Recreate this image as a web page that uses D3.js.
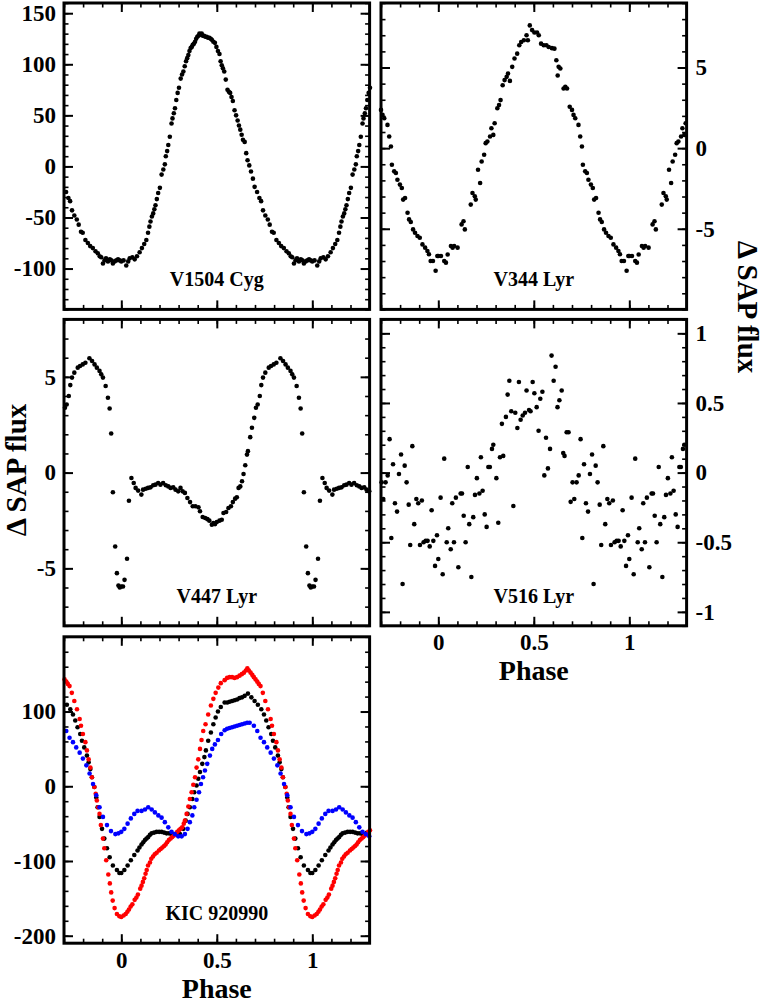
<!DOCTYPE html>
<html>
<head>
<meta charset="utf-8">
<script src="https://cdn.jsdelivr.net/npm/d3@7"></script>
<style>
  body { margin: 0; background: #fff; }
  text { font-family: "Liberation Serif", "Times New Roman", serif; font-weight: bold; }
</style>
</head>
<body>
<script>
// Dados: uma fase (0..1) de cada curva, repetida em -1/+1 ao desenhar
const phaseDomain = [-0.3, 1.3];
const phaseTicks = [0, 0.5, 1];

const v1504Cyg = [[0.000,-93],[0.012,-92],[0.026,-97],[0.036,-93],[0.044,-90],[0.058,-89],[0.070,-91],[0.082,-88],[0.096,-84],[0.108,-80],[0.120,-76],[0.131,-72],[0.140,-65],[0.147,-59],[0.153,-54],[0.160,-49],[0.167,-46],[0.173,-42],[0.179,-38],[0.186,-32],[0.193,-26],[0.202,-21],[0.211,-8],[0.220,-3],[0.228,2],[0.233,10],[0.240,15],[0.246,21],[0.254,29],[0.263,42],[0.268,47],[0.275,52],[0.281,57],[0.288,65],[0.295,72],[0.302,77],[0.311,86],[0.318,90],[0.325,93],[0.332,98],[0.339,103],[0.345,106],[0.351,109],[0.357,113],[0.363,116],[0.369,117],[0.374,119],[0.380,120],[0.386,122],[0.392,125],[0.398,127],[0.404,128],[0.409,130],[0.415,129],[0.421,130],[0.427,128],[0.433,128],[0.440,127],[0.447,127],[0.454,126],[0.461,126],[0.468,125],[0.474,124],[0.482,122],[0.490,121],[0.498,117],[0.506,113],[0.514,110],[0.520,103],[0.526,99],[0.532,96],[0.539,93],[0.547,85],[0.556,75],[0.563,73],[0.570,72],[0.577,68],[0.584,64],[0.593,55],[0.601,50],[0.609,45],[0.616,40],[0.623,36],[0.630,31],[0.637,26],[0.646,24],[0.654,13],[0.661,6],[0.670,1],[0.679,-5],[0.689,-12],[0.698,-20],[0.711,-25],[0.723,-31],[0.732,-34],[0.742,-43],[0.754,-48],[0.767,-52],[0.777,-57],[0.789,-64],[0.798,-65],[0.812,-72],[0.825,-75],[0.837,-78],[0.851,-80],[0.865,-83],[0.877,-85],[0.887,-88],[0.895,-89],[0.904,-95],[0.912,-92],[0.920,-90],[0.930,-93],[0.940,-91],[0.948,-92],[0.956,-95],[0.965,-93],[0.974,-92],[0.983,-91],[0.992,-92]];

const v344Lyr = [[0.000,-6.69],[0.014,-6.69],[0.031,-7.0],[0.040,-7.1],[0.049,-6.6],[0.066,-6.07],[0.075,-6.17],[0.083,-6.07],[0.101,-6.17],[0.122,-4.73],[0.132,-4.53],[0.139,-5.04],[0.170,-3.5],[0.179,-2.78],[0.191,-2.98],[0.196,-3.19],[0.208,-1.34],[0.219,-2.16],[0.227,-0.83],[0.240,-0.41],[0.248,0.31],[0.257,0.41],[0.271,0.72],[0.278,1.23],[0.288,0.82],[0.295,1.54],[0.309,2.47],[0.318,2.67],[0.326,2.98],[0.337,3.9],[0.347,4.22],[0.358,4.42],[0.365,4.63],[0.375,4.17],[0.387,5.04],[0.399,5.56],[0.413,5.86],[0.424,6.38],[0.434,6.58],[0.448,6.69],[0.462,7.0],[0.469,6.69],[0.479,7.61],[0.491,7.32],[0.503,7.17],[0.517,7.17],[0.526,7.0],[0.538,6.48],[0.552,6.38],[0.566,6.38],[0.578,6.27],[0.595,6.2],[0.608,6.17],[0.618,5.45],[0.625,4.5],[0.630,5.04],[0.639,4.94],[0.656,3.7],[0.665,3.8],[0.674,3.7],[0.688,2.57],[0.700,2.37],[0.708,2.06],[0.717,1.85],[0.734,1.44],[0.743,0.72],[0.752,0.1],[0.757,-1.03],[0.769,-1.44],[0.778,-1.54],[0.786,-1.96],[0.799,-2.26],[0.809,-2.47],[0.816,-3.19],[0.826,-3.09],[0.839,-4.01],[0.847,-4.42],[0.856,-4.58],[0.868,-5.04],[0.878,-5.25],[0.891,-5.45],[0.903,-5.56],[0.917,-5.97],[0.931,-6.17],[0.943,-6.38],[0.951,-6.58],[0.960,-7.0],[0.972,-7.0],[0.986,-7.6],[0.995,-6.69]];

const v447Lyr = [[0.000,-5.95],[0.009,-5.95],[0.017,-5.6],[0.030,-4.5],[0.040,-1.47],[0.053,-0.28],[0.065,-0.54],[0.075,-0.8],[0.088,-0.94],[0.105,-1.15],[0.114,-0.89],[0.128,-0.84],[0.140,-0.8],[0.153,-0.77],[0.167,-0.66],[0.179,-0.63],[0.193,-0.54],[0.205,-0.63],[0.219,-0.54],[0.233,-0.66],[0.246,-0.72],[0.258,-0.8],[0.272,-0.77],[0.284,-0.89],[0.298,-0.98],[0.310,-0.8],[0.321,-0.98],[0.333,-1.06],[0.346,-1.33],[0.360,-1.54],[0.374,-1.76],[0.388,-1.76],[0.404,-1.81],[0.412,-2.02],[0.426,-2.32],[0.439,-2.37],[0.451,-2.43],[0.461,-2.51],[0.474,-2.72],[0.482,-2.64],[0.491,-2.69],[0.500,-2.58],[0.514,-2.51],[0.526,-2.46],[0.535,-2.11],[0.549,-2.06],[0.561,-1.85],[0.574,-1.76],[0.584,-1.54],[0.596,-1.36],[0.605,-1.29],[0.614,-0.8],[0.623,-0.72],[0.632,-0.45],[0.640,-0.07],[0.649,0.38],[0.658,0.94],[0.663,1.12],[0.675,1.85],[0.684,2.34],[0.696,2.86],[0.705,3.39],[0.714,3.56],[0.725,4.0],[0.733,4.57],[0.742,4.96],[0.754,5.22],[0.772,5.48],[0.784,5.57],[0.798,5.65],[0.812,5.74],[0.833,5.97],[0.847,5.83],[0.860,5.65],[0.872,5.48],[0.886,5.31],[0.895,5.13],[0.904,4.96],[0.918,4.52],[0.930,3.91],[0.939,3.35],[0.947,2.04],[0.956,-1.03],[0.968,-3.86],[0.977,-5.25],[0.985,-5.9],[0.992,-6.0]];

const v516Lyr = [[0.000,-0.62],[0.012,-0.18],[0.023,-0.73],[0.031,0.10],[0.044,-0.50],[0.052,-0.40],[0.065,-0.55],[0.073,-0.22],[0.082,-0.50],[0.092,-0.18],[0.105,-0.68],[0.117,-0.15],[0.124,-0.15],[0.133,-0.31],[0.143,-0.50],[0.154,0.04],[0.162,-0.37],[0.173,-0.75],[0.183,-0.32],[0.192,-0.16],[0.202,-0.04],[0.215,-0.15],[0.223,0.11],[0.232,-0.13],[0.243,-0.30],[0.253,-0.39],[0.262,0.04],[0.270,0.04],[0.281,0.17],[0.288,0.20],[0.304,-0.04],[0.314,-0.36],[0.323,0.11],[0.333,0.35],[0.340,0.12],[0.354,0.40],[0.363,0.56],[0.372,0.66],[0.382,0.44],[0.393,-0.24],[0.403,0.43],[0.414,0.32],[0.422,0.65],[0.431,0.38],[0.442,0.41],[0.454,0.43],[0.462,0.59],[0.475,0.45],[0.483,0.44],[0.494,0.65],[0.503,0.57],[0.515,0.47],[0.525,0.30],[0.534,0.53],[0.545,0.58],[0.555,-0.02],[0.564,0.25],[0.574,0.03],[0.585,0.17],[0.593,0.84],[0.604,0.66],[0.614,0.76],[0.624,0.47],[0.634,0.52],[0.646,0.59],[0.654,0.14],[0.661,0.12],[0.672,0.29],[0.682,0.29],[0.693,-0.21],[0.703,-0.07],[0.712,-0.19],[0.724,-0.07],[0.735,-0.02],[0.745,0.24],[0.754,-0.47],[0.763,0.06],[0.773,-0.22],[0.784,-0.28],[0.794,-0.01],[0.805,0.13],[0.813,-0.80],[0.824,0.05],[0.834,-0.07],[0.845,-0.23],[0.853,-0.52],[0.864,0.19],[0.874,-0.37],[0.885,-0.19],[0.895,-0.22],[0.904,-0.52],[0.914,-0.20],[0.923,-0.50],[0.934,-0.49],[0.944,-0.49],[0.955,-0.53],[0.965,-0.27],[0.974,-0.49],[0.983,-0.67],[0.993,-0.45]];

// KIC 920990: tres curvas
const kicBlack = [[0.000,-116],[0.016,-112],[0.033,-106],[0.050,-99],[0.068,-92],[0.085,-86],[0.095,-82],[0.106,-78],[0.115,-75],[0.124,-72],[0.132,-70],[0.141,-68],[0.150,-65],[0.159,-63],[0.172,-62],[0.185,-61],[0.198,-61],[0.211,-61],[0.224,-62],[0.237,-63],[0.250,-63],[0.263,-64],[0.276,-64],[0.290,-64],[0.307,-64],[0.325,-57],[0.337,-46],[0.347,-37],[0.359,-28],[0.372,-17],[0.382,-8],[0.394,1],[0.403,10],[0.412,19],[0.424,30],[0.435,39],[0.443,48],[0.455,61],[0.469,72],[0.482,83],[0.494,92],[0.506,100],[0.521,106],[0.541,112],[0.555,112],[0.567,113],[0.580,114],[0.593,115],[0.606,116],[0.619,118],[0.632,119],[0.646,121],[0.663,124],[0.681,119],[0.698,114],[0.715,109],[0.733,103],[0.747,96],[0.759,88],[0.771,79],[0.785,70],[0.794,61],[0.806,52],[0.820,41],[0.829,32],[0.838,23],[0.846,12],[0.859,-1],[0.869,-15],[0.876,-28],[0.886,-41],[0.899,-57],[0.911,-70],[0.925,-83],[0.939,-95],[0.956,-106],[0.977,-112],[0.990,-116]];

const kicRed = [[0.000,-175],[0.012,-173],[0.023,-171],[0.032,-168],[0.040,-165],[0.049,-161],[0.058,-158],[0.070,-152],[0.079,-149],[0.087,-145],[0.099,-137],[0.106,-133],[0.113,-128],[0.120,-123],[0.127,-117],[0.133,-112],[0.140,-106],[0.150,-102],[0.157,-97],[0.166,-94],[0.175,-91],[0.185,-89],[0.197,-86],[0.206,-84],[0.215,-82],[0.224,-80],[0.232,-78],[0.240,-75],[0.249,-72],[0.258,-70],[0.267,-68],[0.275,-66],[0.284,-64],[0.293,-61],[0.302,-59],[0.310,-57],[0.319,-55],[0.327,-50],[0.333,-46],[0.342,-37],[0.351,-27],[0.359,-17],[0.368,-8],[0.377,2],[0.386,12],[0.394,25],[0.403,36],[0.412,50],[0.420,62],[0.429,74],[0.441,83],[0.455,96],[0.469,108],[0.482,117],[0.494,125],[0.508,132],[0.521,138],[0.541,142],[0.554,145],[0.567,146],[0.580,146],[0.593,145],[0.606,146],[0.619,148],[0.631,150],[0.642,152],[0.652,155],[0.660,158],[0.668,155],[0.677,152],[0.686,149],[0.694,146],[0.703,143],[0.712,140],[0.720,137],[0.729,134],[0.741,125],[0.754,114],[0.768,103],[0.782,90],[0.789,81],[0.799,70],[0.812,59],[0.820,48],[0.829,36],[0.838,25],[0.846,12],[0.859,-1],[0.866,-10],[0.872,-19],[0.879,-28],[0.886,-37],[0.893,-52],[0.904,-70],[0.911,-83],[0.921,-99],[0.932,-118],[0.940,-130],[0.947,-142],[0.955,-153],[0.965,-163],[0.977,-171],[0.990,-174]];

const kicBlue = [[0.000,-61],[0.016,-57],[0.033,-50],[0.050,-43],[0.068,-37],[0.085,-33],[0.106,-33],[0.124,-31],[0.141,-28],[0.159,-31],[0.176,-35],[0.194,-39],[0.211,-42],[0.228,-48],[0.246,-55],[0.263,-61],[0.280,-64],[0.298,-67],[0.316,-67],[0.333,-64],[0.347,-57],[0.359,-48],[0.372,-39],[0.382,-28],[0.394,-18],[0.407,-8],[0.417,3],[0.428,12],[0.438,21],[0.450,30],[0.464,41],[0.476,50],[0.490,56],[0.506,62],[0.523,70],[0.541,75],[0.554,77],[0.567,78],[0.580,79],[0.593,80],[0.606,81],[0.619,82],[0.632,83],[0.646,84],[0.659,85],[0.672,85],[0.694,81],[0.712,74],[0.729,65],[0.747,59],[0.764,52],[0.782,45],[0.799,37],[0.817,28],[0.834,17],[0.852,3],[0.869,-12],[0.886,-28],[0.904,-41],[0.925,-52],[0.946,-60],[0.969,-64],[0.985,-63]];

// Dimensoes
const W = 763, H = 1004;
const pw = 305.6, ph = 306.4;
const cols = [64, 381], rows = [3, 319.4, 636.8];

const svg = d3.select("body").append("svg")
  .attr("width", W)
  .attr("height", H);

const panels = [
  {name: "V1504 Cyg", col: 0, row: 0, yDomain: [-140, 160], major: [-100, -50, 0, 50, 100, 150], minor: 10, side: "left",
   series: [{pts: v1504Cyg, color: "#000"}]},
  {name: "V344 Lyr", col: 1, row: 0, yDomain: [-10, 9], major: [-5, 0, 5], minor: 1, side: "right",
   series: [{pts: v344Lyr, color: "#000"}]},
  {name: "V447 Lyr", col: 0, row: 1, yDomain: [-8, 8], major: [-5, 0, 5], minor: 1, side: "left",
   series: [{pts: v447Lyr, color: "#000"}]},
  {name: "V516 Lyr", col: 1, row: 1, yDomain: [-1.1, 1.1], major: [-1, -0.5, 0, 0.5, 1], minor: 0.1, side: "right", xLabels: true,
   series: [{pts: v516Lyr, color: "#000"}]},
  {name: "KIC 920990", col: 0, row: 2, yDomain: [-210, 200], major: [-200, -100, 0, 100], minor: 20, side: "left", xLabels: true,
   series: [{pts: kicBlack, color: "#000"}, {pts: kicRed, color: "#ff0000"}, {pts: kicBlue, color: "#0000ff"}]}
];

function minorTicks(domain, step) {
  const a = Math.ceil(domain[0] / step - 1e-6), b = Math.floor(domain[1] / step + 1e-6);
  return d3.range(a, b + 1).map(i => +(i * step).toFixed(4));
}

function styleAxis(sel, width, labels) {
  sel.select(".domain").remove();
  sel.selectAll(".tick line").attr("stroke-width", width);
  sel.selectAll("text")
    .style("font-size", "23px")
    .style("font-family", '"Liberation Serif", "Times New Roman", serif')
    .style("font-weight", "bold")
    .attr("fill", "#000");
  if (!labels) sel.selectAll("text").remove();
}

panels.forEach(p => {
  const g = svg.append("g")
    .attr("transform", "translate(" + cols[p.col] + "," + rows[p.row] + ")");

  const x = d3.scaleLinear().domain(phaseDomain).range([0, pw]);
  const y = d3.scaleLinear().domain(p.yDomain).range([ph, 0]);

  const xMinor = minorTicks(phaseDomain, 0.1);
  const yMinor = minorTicks(p.yDomain, p.minor);

  // ticks menores
  g.append("g").attr("transform", "translate(0," + ph + ")")
    .call(d3.axisBottom(x).tickValues(xMinor).tickSize(-4.5).tickFormat(""))
    .call(s => styleAxis(s, 1.6, false));
  g.append("g")
    .call(d3.axisTop(x).tickValues(xMinor).tickSize(-4.5).tickFormat(""))
    .call(s => styleAxis(s, 1.6, false));
  g.append("g")
    .call(d3.axisLeft(y).tickValues(yMinor).tickSize(-4.5).tickFormat(""))
    .call(s => styleAxis(s, 1.6, false));
  g.append("g").attr("transform", "translate(" + pw + ",0)")
    .call(d3.axisRight(y).tickValues(yMinor).tickSize(-4.5).tickFormat(""))
    .call(s => styleAxis(s, 1.6, false));

  // ticks maiores
  g.append("g").attr("transform", "translate(0," + ph + ")")
    .call(d3.axisBottom(x).tickValues(phaseTicks).tickSize(-9).tickPadding(8).tickFormat(d => String(d)))
    .call(s => styleAxis(s, 2, p.xLabels));
  g.append("g")
    .call(d3.axisTop(x).tickValues(phaseTicks).tickSize(-9).tickFormat(""))
    .call(s => styleAxis(s, 2, false));
  g.append("g")
    .call(d3.axisLeft(y).tickValues(p.major).tickSize(-9).tickPadding(8).tickFormat(d => String(d)))
    .call(s => styleAxis(s, 2, p.side === "left"));
  g.append("g").attr("transform", "translate(" + pw + ",0)")
    .call(d3.axisRight(y).tickValues(p.major).tickSize(-9).tickPadding(9).tickFormat(d => String(d)))
    .call(s => styleAxis(s, 2, p.side === "right"));

  // pontos (fase repetida em -1, 0, +1)
  p.series.forEach(s => {
    const pts = s.pts.flatMap(([f, v]) => [-1, 0, 1].map(k => [f + k, v]))
      .filter(d => d[0] >= phaseDomain[0] - 0.002 && d[0] <= phaseDomain[1] + 0.002);
    g.append("g").selectAll("circle")
      .data(pts)
      .enter().append("circle")
      .attr("cx", d => x(d[0]))
      .attr("cy", d => y(d[1]))
      .attr("r", 2.3)
      .attr("fill", s.color);
  });

  // moldura
  g.append("rect")
    .attr("width", pw).attr("height", ph)
    .attr("fill", "none").attr("stroke", "#000").attr("stroke-width", 3);

  // nome da estrela
  g.append("text")
    .attr("x", x(0.5)).attr("y", ph - 23)
    .attr("text-anchor", "middle")
    .style("font-size", "20px")
    .text(p.name);

  if (p.xLabels) {
    g.append("text")
      .attr("x", x(0.5)).attr("y", ph + 54.5)
      .attr("text-anchor", "middle")
      .style("font-size", "28px")
      .text("Phase");
  }
});

// titulos do eixo y
svg.append("text")
  .attr("transform", "translate(26,470) rotate(-90)")
  .attr("text-anchor", "middle")
  .style("font-size", "29px")
  .text("\u0394 SAP flux");

svg.append("text")
  .attr("transform", "translate(738,307) rotate(90)")
  .attr("text-anchor", "middle")
  .style("font-size", "29px")
  .text("\u0394 SAP flux");
</script>
</body>
</html>
